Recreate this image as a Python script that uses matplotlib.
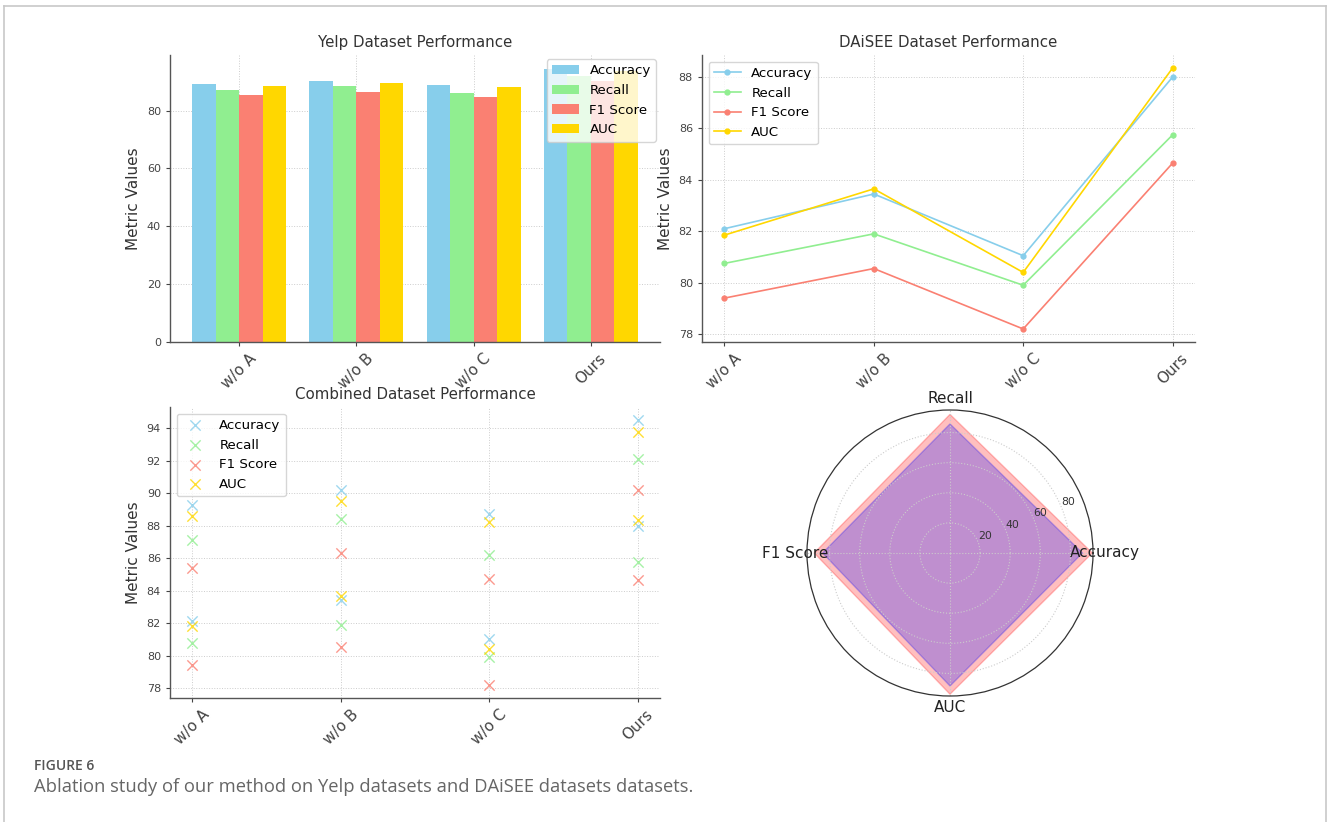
import numpy as np
import matplotlib
matplotlib.use("Agg")
import matplotlib.pyplot as plt
from matplotlib.lines import Line2D

# ablation results
variants = ["w/o A", "w/o B", "w/o C", "Ours"]
metrics = ["Accuracy", "Recall", "F1 Score", "AUC"]
colors = ["skyblue", "lightgreen", "salmon", "gold"]

yelp_acc = [89.3, 90.2, 88.7, 94.5]
yelp_rec = [87.1, 88.4, 86.2, 92.1]
yelp_f1 = [85.4, 86.3, 84.7, 90.2]
yelp_auc = [88.6, 89.5, 88.2, 93.8]

daisee_acc = [82.1, 83.45, 81.05, 88.0]
daisee_rec = [80.75, 81.9, 79.9, 85.75]
daisee_f1 = [79.4, 80.55, 78.2, 84.65]
daisee_auc = [81.85, 83.65, 80.4, 88.35]

yelp = [yelp_acc, yelp_rec, yelp_f1, yelp_auc]
daisee = [daisee_acc, daisee_rec, daisee_f1, daisee_auc]

W, H = 1328, 822
fig = plt.figure(figsize=(W / 100, H / 100), dpi=100)

def px_axes(x0, y0, x1, y1, **kw):
    return fig.add_axes([x0 / W, 1 - y1 / H, (x1 - x0) / W, (y1 - y0) / H], **kw)

def style(ax):
    for s in ["top", "right"]:
        ax.spines[s].set_visible(False)
    for s in ["left", "bottom"]:
        ax.spines[s].set_color("#555555")
        ax.spines[s].set_linewidth(1.0)
    ax.grid(True, linestyle=":", color="#cccccc", linewidth=0.7)
    ax.set_axisbelow(True)
    ax.tick_params(axis="y", labelsize=8, colors="#444444", length=3)
    ax.tick_params(axis="x", labelsize=11, colors="#444444", length=3)
    ax.set_ylabel("Metric Values", fontsize=11, color="#333333")

x = np.arange(len(variants))

# bar chart, Yelp
ax1 = px_axes(170, 55, 660, 342)
bw = 0.2
for i, (m, c) in enumerate(zip(metrics, colors)):
    ax1.bar(x + (i - 1.5) * bw, yelp[i], bw, label=m, color=c)
ax1.set_xticks(x)
ax1.set_xticklabels(variants, rotation=45)
ax1.set_title("Yelp Dataset Performance", fontsize=10.8, color="#333333")
style(ax1)
ax1.legend(loc="upper right", fontsize=9.6, framealpha=0.8, borderaxespad=0.3)

# line chart, DAiSEE
ax2 = px_axes(702, 55, 1195, 342)
for vals, m, c in zip(daisee, metrics, colors):
    ax2.plot(x, vals, marker="o", markersize=3.5, linewidth=1.2, color=c, label=m)
ax2.set_xticks(x)
ax2.set_xticklabels(variants, rotation=45)
ax2.set_title("DAiSEE Dataset Performance", fontsize=10.8, color="#333333")
style(ax2)
ax2.legend(loc="upper left", fontsize=9.6, framealpha=0.8)

# scatter, both datasets
ax3 = px_axes(170, 407, 660, 698)
for a, b, m, c in zip(yelp, daisee, metrics, colors):
    ax3.scatter(x, a, marker="x", s=55, color=c, alpha=0.8, linewidths=1.0, label=m)
    ax3.scatter(x, b, marker="x", s=55, color=c, alpha=0.8, linewidths=1.0)
ax3.set_xticks(x)
ax3.set_xticklabels(variants, rotation=45)
ax3.set_title("Combined Dataset Performance", fontsize=10.8, color="#333333")
style(ax3)
ax3.legend(loc="upper left", fontsize=9.6, framealpha=0.8)

# radar, best model on both datasets
ax4 = px_axes(805, 410, 1095, 696, projection="polar")
angles = np.linspace(0, 2 * np.pi, len(metrics), endpoint=False).tolist()
yelp_ours = [v[-1] for v in yelp]
daisee_ours = [v[-1] for v in daisee]
ang = angles + angles[:1]
ax4.fill(ang, yelp_ours + yelp_ours[:1], color="red", alpha=0.25)
ax4.fill(ang, daisee_ours + daisee_ours[:1], color="blue", alpha=0.25)
ax4.set_xticks(angles)
ax4.set_xticklabels(metrics, fontsize=11, color="#222222")
ax4.set_yticks([20, 40, 60, 80])
ax4.set_yticklabels(["20", "40", "60", "80"], fontsize=7.8, color="#333333")
ax4.grid(True, linestyle=":", color="#cccccc", linewidth=0.8)
ax4.spines["polar"].set_color("#333333")
ax4.spines["polar"].set_linewidth(0.9)
ax4.tick_params(axis="x", pad=-2)

# caption
fig.text(34 / W, 1 - 766 / H, "FIGURE 6", fontsize=10, color="#555555",
         family="Open Sans", weight="semibold", va="center")
fig.text(34 / W, 1 - 787 / H,
         "Ablation study of our method on Yelp datasets and DAiSEE datasets datasets.",
         fontsize=13.2, color="#666666", family="Open Sans", va="center")

# page frame
frame = dict(color="#c8c8c8", linewidth=1.2, transform=fig.transFigure)
fig.add_artist(Line2D([4 / W, 4 / W], [0, 1 - 6 / H], **frame))
fig.add_artist(Line2D([4 / W, 1326 / W], [1 - 6 / H, 1 - 6 / H], **frame))
fig.add_artist(Line2D([1326 / W, 1326 / W], [0, 1 - 6 / H], **frame))

fig.savefig("out.png", dpi=100)
